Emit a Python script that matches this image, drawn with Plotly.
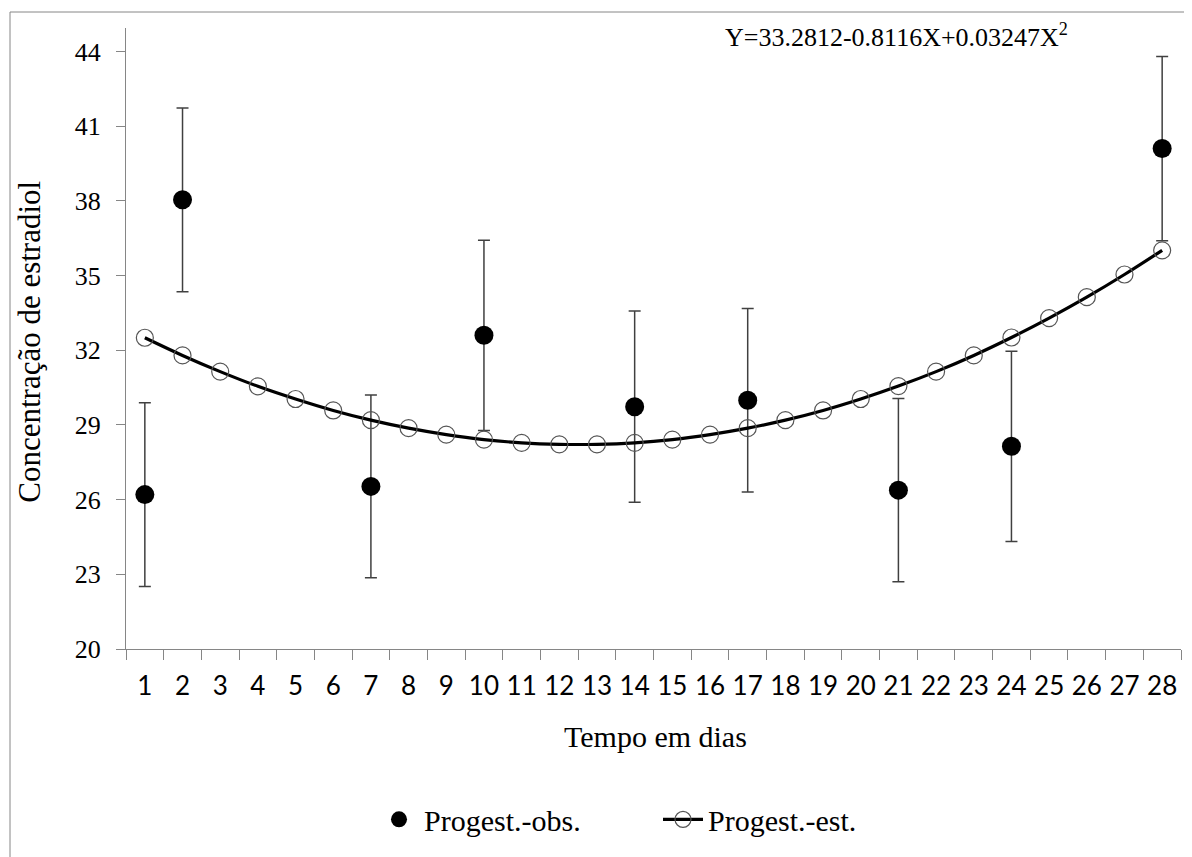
import plotly.graph_objects as go

# ---- data ----
days = [str(d) for d in range(1, 29)]
obs_days = ["1", "2", "7", "10", "14", "17", "21", "24", "28"]
obs_values = [26.20, 38.04, 26.53, 32.60, 29.73, 29.99, 26.38, 28.14, 40.10]
obs_err = [3.69, 3.69, 3.67, 3.82, 3.84, 3.68, 3.68, 3.82, 3.70]
est_values = [32.50, 31.79, 31.14, 30.55, 30.04, 29.58, 29.19, 28.87, 28.61, 28.41,
              28.28, 28.22, 28.22, 28.28, 28.41, 28.61, 28.87, 29.19, 29.58, 30.04,
              30.56, 31.14, 31.79, 32.51, 33.29, 34.13, 35.04, 36.01]
y_ticks = [20, 23, 26, 29, 32, 35, 38, 41, 44]
equation = "Y=33.2812-0.8116X+0.03247X<sup>2</sup>"

OFF = 8  # page body margin
W, H = 1192 - OFF, 857 - OFF
# plot area in page pixels: x 126..1181, y 28..649.5
L = 126 - OFF
T = 28 - OFF
R = W - (1181 - OFF)
B = H - (649.5 - OFF)
pw, ph = W - L - R, H - T - B

def px(xpage):
    return (xpage - OFF - L) / pw

def py(ypage):
    return (H - B - (ypage - OFF)) / ph

serif = "Liberation Serif, Times New Roman, serif"
grey = "#868686"

fig = go.Figure()
fig.add_trace(go.Scatter(
    x=obs_days, y=obs_values, mode="markers", name="Progest.-obs.",
    marker=dict(symbol="circle", size=19, color="black"),
    error_y=dict(type="data", array=obs_err, visible=True, color="#404040",
                 thickness=1.5, width=6),
))
fig.add_trace(go.Scatter(
    x=days, y=est_values, mode="lines+markers", name="Progest.-est.",
    line=dict(color="black", width=3.2, shape="spline"),
    marker=dict(symbol="circle-open", size=17, color="#555555",
                line=dict(width=1.2, color="#555555")),
))

fig.update_layout(
    width=W, height=H,
    margin=dict(l=L, r=R, t=T, b=B, autoexpand=False),
    paper_bgcolor="white", plot_bgcolor="white",
    showlegend=True,
    legend=dict(orientation="h", x=px(374), y=py(820), xanchor="left", yanchor="middle",
                font=dict(family=serif, size=30, color="black"),
                itemwidth=40,
                bgcolor="rgba(0,0,0,0)", entrywidth=229, entrywidthmode="pixels"),
    xaxis=dict(type="category", categoryorder="array", categoryarray=days,
               range=[-0.5, 27.5],
               tickmode="array", tickvals=days, ticktext=days, tickangle=0,
               automargin=False,
               showline=True, linecolor=grey, linewidth=1,
               ticks="outside", ticklen=10, tickcolor=grey, tickson="boundaries",
               showgrid=False, zeroline=False,
               tickfont=dict(family="Lato, Carlito, sans-serif", size=26, color="black"),
               ticklabelstandoff=14),
    yaxis=dict(range=[20, 44.94], tickmode="array", tickvals=y_ticks,
               automargin=False,
               showline=True, linecolor=grey, linewidth=1,
               ticks="outside", ticklen=9, tickcolor=grey,
               showgrid=False, zeroline=False,
               tickfont=dict(family=serif, size=26, color="black"),
               ticklabelstandoff=10),
    annotations=[
        dict(text="Tempo em dias", xref="paper", yref="paper", x=px(655), y=py(737),
             xanchor="center", yanchor="middle", showarrow=False,
             font=dict(family=serif, size=30, color="black")),
        dict(text="Concentração de estradiol", xref="paper", yref="paper", x=px(30), y=py(342),
             xanchor="center", yanchor="middle", textangle=-90, showarrow=False,
             font=dict(family=serif, size=31, color="black")),
        dict(text=equation, xref="paper", yref="paper", x=px(1070), y=py(36),
             xanchor="right", yanchor="middle", showarrow=False,
             font=dict(family=serif, size=26, color="black")),
    ],
    shapes=[
        dict(type="line", xref="paper", yref="paper",
             x0=px(10), x1=px(10), y0=py(860), y1=py(12),
             line=dict(color=grey, width=1), layer="below"),
        dict(type="line", xref="paper", yref="paper",
             x0=px(10), x1=px(1200), y0=py(12), y1=py(12),
             line=dict(color=grey, width=1), layer="below"),
    ],
)

fig.write_html("out.html")
